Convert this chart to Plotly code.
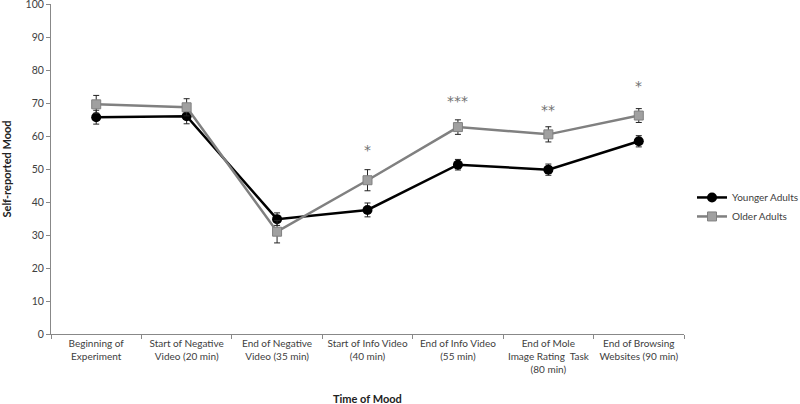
import plotly.graph_objects as go

categories = ["Beginning of<br>Experiment", "Start of Negative<br>Video (20 min)",
              "End of Negative<br>Video (35 min)", "Start of Info Video<br>(40 min)",
              "End of Info Video<br>(55 min)", "End of Mole<br>Image Rating  Task<br>(80 min)",
              "End of Browsing<br>Websites (90 min)"]
younger = [65.7, 66.0, 34.8, 37.6, 51.3, 49.8, 58.4]
younger_err = [2.1, 2.3, 1.9, 2.1, 1.6, 1.7, 1.7]
older = [69.6, 68.7, 31.0, 46.6, 62.7, 60.5, 66.2]
older_err = [2.7, 2.6, 3.4, 3.2, 2.2, 2.3, 2.1]
sig_labels = ["", "", "", "*", "***", "**", "*"]
sig_y = [None, None, None, 55.8, 70.5, 68.0, 75.3]

font = "Lato, Open Sans, sans-serif"
W, H = 800, 404
L, R, T, B = 51, 0, 4, 70
plot_right = 684
dom_end = (plot_right - L) / (W - L - R)

fig = go.Figure()
fig.add_trace(go.Scatter(
    x=categories, y=younger, name="Younger Adults", mode="lines+markers",
    line=dict(color="black", width=2.5),
    marker=dict(symbol="circle", size=10, color="black"),
    error_y=dict(type="data", array=younger_err, color="#222", thickness=1, width=3)))
fig.add_trace(go.Scatter(
    x=categories, y=older, name="Older Adults", mode="lines+markers",
    line=dict(color="#808080", width=2.5),
    marker=dict(symbol="square", size=9, color="#a0a0a0", line=dict(color="#808080", width=1)),
    error_y=dict(type="data", array=older_err, color="#222", thickness=1, width=3)))

for c, s, yy in zip(categories, sig_labels, sig_y):
    if s:
        fig.add_annotation(x=c, y=yy, text=s, showarrow=False,
                           font=dict(size=14, color="#707070", family="DejaVu Sans"))

fig.add_annotation(x=dom_end / 2, xref="paper", y=0, yref="paper", yshift=-64,
                   text="<b>Time of Mood</b>", showarrow=False,
                   font=dict(size=11, color="#222", family=font), yanchor="middle")

leg_left = 692
fig.update_layout(
    width=W, height=H,
    margin=dict(l=L, r=R, t=T, b=B, autoexpand=False),
    paper_bgcolor="white", plot_bgcolor="white",
    font=dict(family=font, size=10, color="#404040"),
    showlegend=True,
    legend=dict(x=(leg_left - L) / (W - L - R), y=0.385, xanchor="left", yanchor="middle",
                font=dict(size=10, color="#404040", family=font),
                bgcolor="rgba(0,0,0,0)", tracegroupgap=2, itemwidth=30),
    xaxis=dict(type="category", range=[-0.5, 6.5], domain=[0, dom_end], showline=True,
               linecolor="#888", linewidth=1, ticks="outside", tickson="boundaries",
               ticklen=4, tickcolor="#888", showgrid=False, zeroline=False, tickangle=0,
               automargin=False, tickfont=dict(size=10, color="#404040")),
    yaxis=dict(range=[0, 100], dtick=10, showline=True, linecolor="#888", linewidth=1,
               ticks="outside", ticklen=4, tickcolor="#888", showgrid=False,
               zeroline=False, automargin=False, ticklabeloverflow="allow",
               tickfont=dict(size=10.5, color="#404040"),
               title=dict(text="<b>Self-reported Mood</b>", standoff=18,
                          font=dict(size=11, color="#222", family=font))),
)
fig.write_html("out.html", post_script="document.body.style.margin='0';",
               config={"displayModeBar": False})
